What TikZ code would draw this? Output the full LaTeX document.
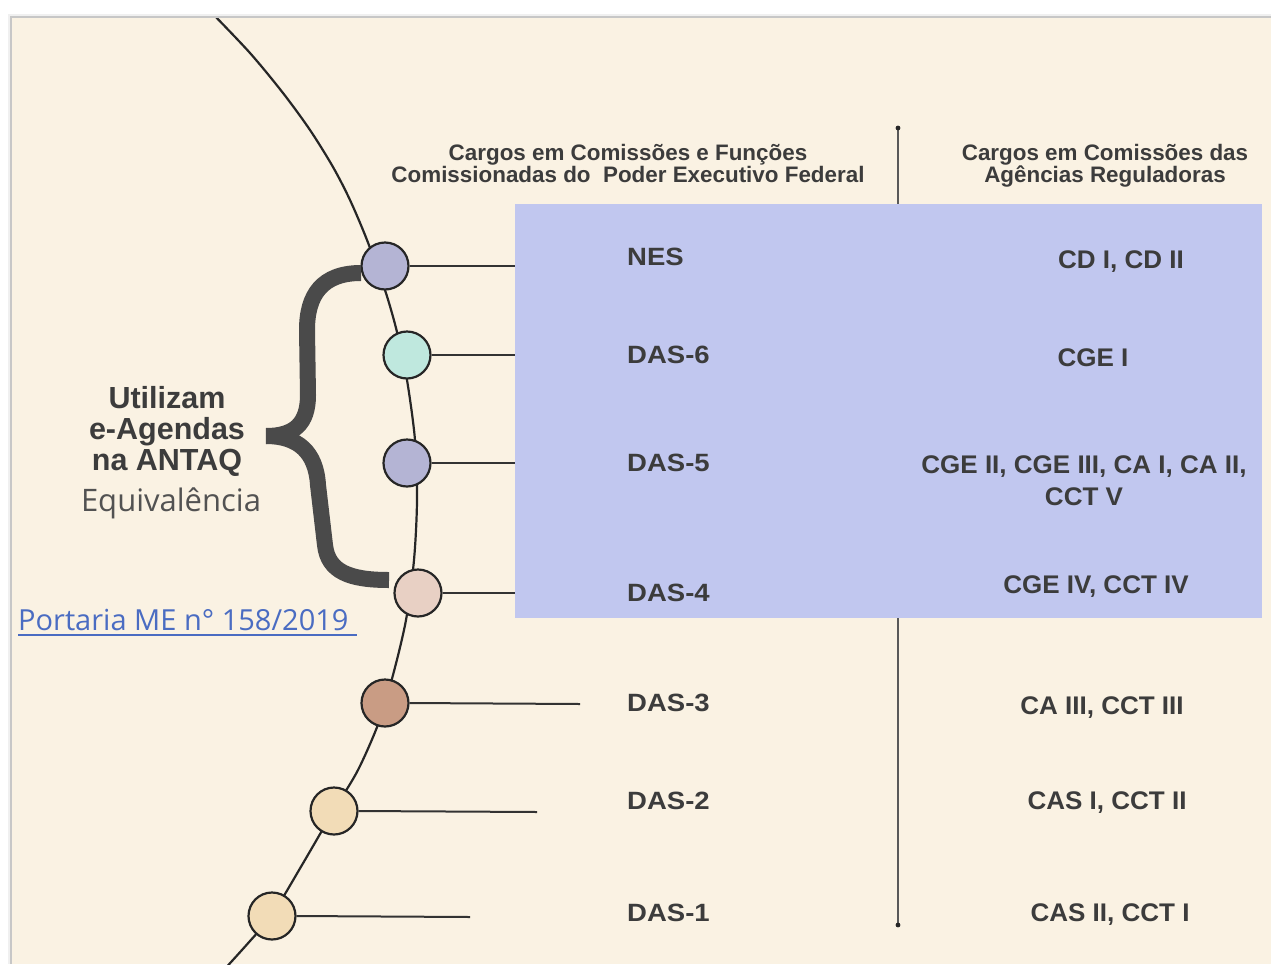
\documentclass[tikz,border=0pt]{standalone}
\usepackage{fontspec}
\setmainfont{Liberation Sans}
\newfontfamily\headfont{Liberation Sans}
\newfontfamily\lvlfont{Liberation Sans}[FakeStretch=1.1]
\newfontfamily\eqfont{Liberation Sans}[FakeStretch=1.02]
\newfontfamily\lightfont{Open Sans}
\usetikzlibrary{calc}

\definecolor{paper}{HTML}{FAF2E3}
\definecolor{panel}{HTML}{C1C7EF}
\definecolor{ink}{HTML}{3C3C3C}
\definecolor{braceink}{HTML}{4A4A4A}
\definecolor{linkblue}{HTML}{4A6CC2}
\definecolor{cLav}{HTML}{B4B4D4}
\definecolor{cTeal}{HTML}{BFE8DE}
\definecolor{cRose}{HTML}{E8D0C4}
\definecolor{cBrown}{HTML}{C99C84}
\definecolor{cSand}{HTML}{F2DCB7}

\tikzset{
  dot/.style={circle, draw=black!85, line width=2.2pt, minimum size=47pt, inner sep=0pt},
  link/.style={draw=black!80, line width=2pt},
  lvl/.style={font=\lvlfont\fontsize{25}{28}\selectfont\bfseries, text=ink, inner sep=0pt, anchor=base west},
  equiv/.style={font=\eqfont\fontsize{25.5}{28}\selectfont\bfseries, text=ink, inner sep=0pt, anchor=base},
  head/.style={font=\headfont\fontsize{22.4}{24}\selectfont\bfseries, text=ink, inner sep=0pt, anchor=base},
  side/.style={font=\headfont\fontsize{30.5}{33}\selectfont\bfseries, text=ink, inner sep=0pt, anchor=base},
  bracearm/.style={draw=braceink, line width=16pt, line cap=butt},
}

\begin{document}
\begin{tikzpicture}[x=1pt,y=-1pt]
\useasboundingbox (0,0) rectangle (1271,964);
% page and framed sheet with a soft edge
\fill[white] (0,0) rectangle (1271,964);
\fill[black!6] (8,14) rectangle (1271,964);
\fill[black!22] (10,16) rectangle (1271,964);
\fill[paper] (12,18) rectangle (1271,964);

% divider between the two columns
\coordinate (vt) at (898,128);
\coordinate (vb) at (898,925);
\draw[black!65, line width=2pt] (vt) -- (vb);
\fill[black!85] (vt) circle (2.4pt);
\fill[black!85] (vb) circle (2.4pt);

% highlighted band of levels
\fill[panel] (515,204) rectangle (1262,618);

% main curved spine
\begin{scope}
\clip (12,18) rectangle (1271,964);
\draw[black!85, line width=2.2pt] plot[smooth, tension=0.5] coordinates {
  (211,12) (250,53) (283,93) (310,130) (333,167) (350,200) (367,240)
  (385,290) (397,332) (407,380) (415,440) (417,500) (414,560) (406,620)
  (393,675) (379,722) (358,770) (334,810) (302,865) (272,915) (250,941)
  (222,972)};
\end{scope}

% end points of the horizontal connectors
\coordinate (e1) at (515,266);
\coordinate (e2) at (515,355);
\coordinate (e3) at (515,463);
\coordinate (e4) at (515,593);
\coordinate (e5) at (580,704);
\coordinate (e6) at (537,812);
\coordinate (e7) at (470,917);

% level markers on the spine
\node[dot, fill=cLav]   (c1) at (385,266) {};
\node[dot, fill=cTeal]  (c2) at (407,355) {};
\node[dot, fill=cLav]   (c3) at (407,463) {};
\node[dot, fill=cRose]  (c4) at (418,593) {};
\node[dot, fill=cBrown] (c5) at (385,703) {};
\node[dot, fill=cSand]  (c6) at (334,811) {};
\node[dot, fill=cSand]  (c7) at (272,916) {};

\draw[link] (c1) -- (e1);
\draw[link] (c2) -- (e2);
\draw[link] (c3) -- (e3);
\draw[link] (c4) -- (e4);
\draw[link] (c5.east) -- (e5);
\draw[link] (c6.east) -- (e6);
\draw[link] (c7.east) -- (e7);

% column headings
\node[head] (h1a) at (628,160) {Cargos em Comissões e Funções};
\node[head] (h1b) at (628,182) {Comissionadas do\ \ Poder Executivo Federal};
\node[head] (h2a) at (1105,160) {Cargos em Comissões das};
\node[head] (h2b) at (1105,182) {Agências Reguladoras};

% executive levels
\node[lvl] (l1) at (627,265) {NES};
\node[lvl] (l2) at (627,363) {DAS-6};
\node[lvl] (l3) at (627,471) {DAS-5};
\node[lvl] (l4) at (627,601) {DAS-4};
\node[lvl] (l5) at (627,711) {DAS-3};
\node[lvl] (l6) at (627,809) {DAS-2};
\node[lvl] (l7) at (627,921) {DAS-1};

% agency equivalents
\node[equiv] (r1) at (1121,268) {CD I, CD II};
\node[equiv] (r2) at (1093,366) {CGE I};
\node[equiv] (r3a) at (1084,473) {CGE II, CGE III, CA I, CA II,};
\node[equiv] (r3b) at (1084,505) {CCT V};
\node[equiv] (r4) at (1096,593) {CGE IV, CCT IV};
\node[equiv] (r5) at (1102,714) {CA III, CCT III};
\node[equiv] (r6) at (1107,809) {CAS I, CCT II};
\node[equiv] (r7) at (1110,921) {CAS II, CCT I};

% grouping brace, drawn as two arms meeting at the point
\draw[bracearm]
  (361,273) .. controls (322,273) and (307,295) .. (307,330)
  -- (308,395) .. controls (308,424) and (294,436) .. (266,436);
\draw[bracearm]
  (266,436) .. controls (298,436) and (316,452) .. (318,485)
  -- (325,545) .. controls (328,572) and (350,580) .. (389,580);

% side caption
\node[side] (s1) at (167,408) {Utilizam};
\node[side] (s2) at (167,439) {e-Agendas};
\node[side] (s3) at (167,470) {na ANTAQ};
\node[font=\lightfont\fontsize{31}{34}\selectfont, text=black!68, inner sep=0pt, anchor=base] (s4) at (171,511) {Equivalência};

% reference link
\node[font=\lightfont\fontsize{29}{32}\selectfont, text=linkblue, inner sep=0pt, anchor=base west] (pl) at (18,630) {Portaria ME n° 158/2019};
\coordinate (ul1) at (18,635);
\coordinate (ul2) at (357,635);
\draw[linkblue, line width=1.8pt] (ul1) -- (ul2);
\end{tikzpicture}
\end{document}
